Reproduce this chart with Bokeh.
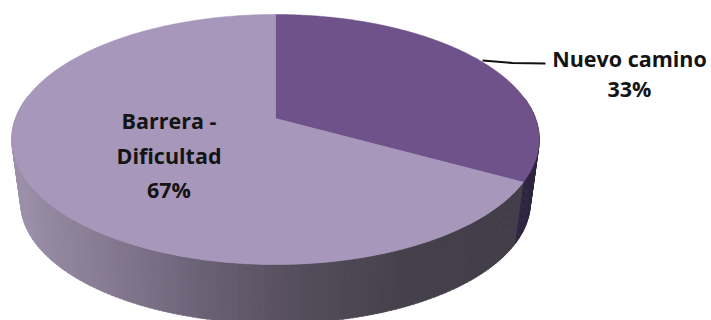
import numpy as np
from bokeh.core.properties import value
from bokeh.embed import file_html
from bokeh.models import ColumnDataSource, Range1d
from bokeh.plotting import figure
from bokeh.resources import INLINE

categories = ["Nuevo camino", "Barrera - Dificultad"]
shares = [33, 67]
top_colors = ["#6f5289", "#a797bb"]

# Projection of the tilted disc onto the page
CX, CY = 275.0, 118.0
A, B, K = 260.0, 121.5, 0.168
FLOOR_SCALE, FLOOR_DROP = 0.966, 64.0

# Horizontal shading of the pie's wall
WALL_X = [12, 100, 200, 300, 400, 540]
WALL_BARRERA = [(0x9c, 0x90, 0xaa), (0x88, 0x7c, 0x94), (0x6c, 0x62, 0x76),
                (0x55, 0x4e, 0x5c), (0x46, 0x42, 0x4d), (0x42, 0x3e, 0x49)]
WALL_NUEVO = "#2e2540"


def rim(theta, scale=1.0, drop=0.0):
    x, y = np.sin(theta), np.cos(theta)
    w = 1 + K * y
    return CX + scale * A * x / w, CY + drop - scale * B * y / w


def shade(x):
    rgb = [int(np.interp(x, WALL_X, [c[i] for c in WALL_BARRERA])) for i in range(3)]
    return "#%02x%02x%02x" % tuple(rgb)


fractions = np.cumsum([0] + shares) / sum(shares)
limits = 2 * np.pi * fractions

p = figure(width=711, height=320, output_backend="svg", toolbar_location=None,
           x_range=Range1d(0, 711), y_range=Range1d(320, 0),
           min_border=0, outline_line_color=None, background_fill_color="white")
p.axis.visible = False
p.grid.visible = False

# Wall: thin strips between the upper rim and the floor rim
walls = dict(xs=[], ys=[], c=[])
for deg in np.arange(80, 281, 1.0):
    t0, t1 = np.radians(deg), np.radians(deg + 1.2)
    x0, y0 = rim(t0)
    x1, y1 = rim(t1)
    x2, y2 = rim(t1, FLOOR_SCALE, FLOOR_DROP)
    x3, y3 = rim(t0, FLOOR_SCALE, FLOOR_DROP)
    walls["xs"].append([x0, x1, x2, x3])
    walls["ys"].append([y0, y1, y2, y3])
    walls["c"].append(WALL_NUEVO if t0 < limits[1] else shade((x0 + x1) / 2))
p.patches("xs", "ys", source=ColumnDataSource(walls), fill_color="c", line_color="c", line_width=0.6)

# Upper face, one wedge per category
for i in range(len(shares)):
    th = np.linspace(limits[i], limits[i + 1], 240)
    x, y = rim(th)
    p.patch(np.r_[CX, x], np.r_[CY, y], fill_color=top_colors[i], line_color=top_colors[i], line_width=0.5)

# Leader line of the outside label
p.line([482, 512, 545], [60, 62.5, 63], line_color="#111111", line_width=2)

pct = [f"{s}%" for s in shares]
labels = ColumnDataSource(dict(
    x=[629, 629, 168.5, 168.5, 168.5],
    y=[58, 88, 120, 155, 189],
    t=[categories[0], pct[0], "Barrera -", "Dificultad", pct[1]],
))
p.text("x", "y", text="t", source=labels, text_align="center", text_baseline="middle",
       text_font=value("Open Sans"), text_font_style="bold", text_font_size="21.5px",
       text_color="#141414")

open("out.html", "w").write(file_html(p, INLINE))
